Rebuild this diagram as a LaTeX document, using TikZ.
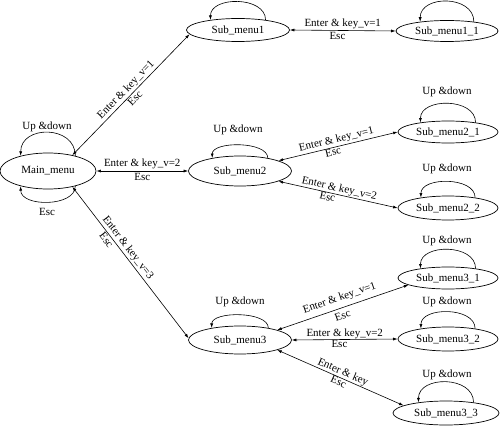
\documentclass[tikz,border=0pt]{standalone}
\usepackage{fontspec}
\setmainfont{Liberation Serif}
\usetikzlibrary{arrows.meta,shapes.geometric}
\begin{document}
\begin{tikzpicture}[x=1pt,y=-1pt,
  state/.style={draw, ellipse, inner sep=0pt, line width=0.7pt, font=\fontsize{11}{12}\selectfont},
  lbl/.style={font=\fontsize{11}{12}\selectfont, inner sep=1.5pt},
  conn/.style={{Latex[length=4.5pt,width=3pt]}-{Latex[length=4.5pt,width=3pt]}, line width=0.6pt},
  selfloop/.style={-{Latex[length=4.5pt,width=3pt]}, line width=0.6pt}]
\useasboundingbox (0,0) rectangle (500,430);

% states
\node[state, minimum width=96pt, minimum height=36pt] (M) at (48,171) {Main\_menu};
\node[state, minimum width=103pt, minimum height=23pt] (S1) at (238,30) {Sub\_menu1};
\node[state, minimum width=102pt, minimum height=21pt] (S11) at (447,31) {Sub\_menu1\_1};
\node[state, minimum width=103pt, minimum height=30pt] (S2) at (240,171) {Sub\_menu2};
\node[state, minimum width=100pt, minimum height=22pt] (S21) at (448,132) {Sub\_menu2\_1};
\node[state, minimum width=100pt, minimum height=24pt] (S22) at (448,208) {Sub\_menu2\_2};
\node[state, minimum width=103pt, minimum height=28pt] (S3) at (240,340) {Sub\_menu3};
\node[state, minimum width=100pt, minimum height=22pt] (S31) at (448,278) {Sub\_menu3\_1};
\node[state, minimum width=100pt, minimum height=24pt] (S32) at (448,339) {Sub\_menu3\_2};
\node[state, minimum width=106pt, minimum height=24pt] (S33) at (446,413) {Sub\_menu3\_3};

% self loops
\draw[selfloop] (M.29) .. controls +(0,-31) and +(0,-31) .. (M.151);
\draw[selfloop] (M.-29) .. controls +(0,21) and +(0,21) .. (M.-151);
\draw[selfloop] (S1.20) .. controls +(0,-24) and +(0,-24) .. (S1.160);
\draw[selfloop] (S11.19) .. controls +(0,-27) and +(0,-27) .. (S11.161);
\draw[selfloop] (S2.25) .. controls +(0,-17) and +(0,-17) .. (S2.155);
\draw[selfloop] (S21.19) .. controls +(0,-25) and +(0,-25) .. (S21.161);
\draw[selfloop] (S22.21) .. controls +(0,-21) and +(0,-21) .. (S22.159);
\draw[selfloop] (S3.23) .. controls +(0,-17) and +(0,-17) .. (S3.157);
\draw[selfloop] (S31.19) .. controls +(0,-25) and +(0,-25) .. (S31.161);
\draw[selfloop] (S32.21) .. controls +(0,-22) and +(0,-22) .. (S32.159);
\draw[selfloop] (S33.21) .. controls +(0,-27) and +(0,-27) .. (S33.159);

% loop labels
\node[lbl] (lM) at (47,127) {Up \&down};
\node[lbl] (lMe) at (47,212) {Esc};
\node[lbl] (l2) at (238,130) {Up \&down};
\node[lbl] (l21) at (447,92) {Up \&down};
\node[lbl] (l22) at (447,169) {Up \&down};
\node[lbl] (l3) at (240,302) {Up \&down};
\node[lbl] (l31) at (447,241) {Up \&down};
\node[lbl] (l32) at (447,302) {Up \&down};
\node[lbl] (l33) at (447,375) {Up \&down};

% connectors
\draw[conn] (M.33) -- node[lbl, sloped, above, pos=0.5] {Enter \& key\_v=1}
                      node[lbl, sloped, below, pos=0.5] {Esc} (S1.185);
\draw[conn] (M.east) -- node[lbl, above] {Enter \& key\_v=2}
                        node[lbl, below] {Esc} (S2.west);
\draw[conn] (M.-33) -- node[lbl, sloped, above, pos=0.43] {Enter \& key\_v=3}
                       node[lbl, sloped, below, pos=0.33] {Esc} (S3.178);
\draw[conn] (S1.east) -- node[lbl, above] {Enter \& key\_v=1}
                         node[lbl, below, pos=0.45] {Esc} (S11.west);
\draw[conn] (S2.15) -- node[lbl, sloped, above] {Enter \& key\_v=1}
                       node[lbl, sloped, below, pos=0.45, inner sep=0.5pt] {Esc} (S21.west);
\draw[conn] (S2.-15) -- node[lbl, sloped, above, inner sep=0.5pt] {Enter \& key\_v=2}
                        node[lbl, sloped, below, pos=0.42, inner sep=0.5pt] {Esc} (S22.west);
\draw[conn] (S3.15) -- node[lbl, sloped, above=3pt] {Enter \& key\_v=1}
                       node[lbl, sloped, below=2pt, pos=0.48] {Esc} (S31.190);
\draw[conn] (S3.east) -- node[lbl, above, inner sep=0.5pt] {Enter \& key\_v=2}
                         node[lbl, below, pos=0.45, inner sep=0.5pt] {Esc} (S32.west);
\draw[conn] (S3.-15) -- node[lbl, sloped, above, inner sep=0.5pt] {Enter \& key}
                        node[lbl, sloped, below, inner sep=0.5pt] {Esc} (S33.170);
\end{tikzpicture}
\end{document}
